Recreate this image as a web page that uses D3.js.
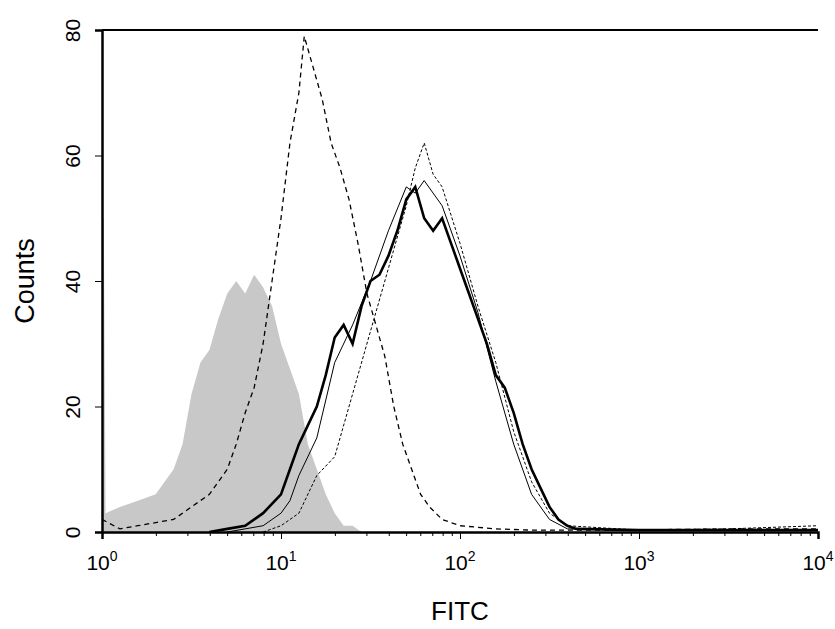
<!DOCTYPE html>
<html><head><meta charset="utf-8">
<script src="https://cdn.jsdelivr.net/npm/d3@7"></script>
<style>body{margin:0;background:#fff}svg{font-family:"Liberation Sans",Arial,sans-serif}</style>
</head><body><div id="viz"></div>
<script>
// log10(FITC) positions and counts per curve
var isoX = [0,0.01,0.02,0.1,0.2,0.3,0.4,0.45,0.5,0.55,0.6,0.65,0.7,0.75,0.8,0.85,0.9,0.95,1.0,1.05,1.1,1.15,1.2,1.25,1.3,1.35,1.4,1.45,1.5];
var isoY = [50,50,3,4,5,6,10,14,22,27,29,34,38,40,38,41,39,36,30,26,22,14,10,6,3,1,1,0,0];
var dashX = [0,0.1,0.2,0.3,0.4,0.5,0.6,0.7,0.75,0.8,0.85,0.9,0.95,1.0,1.05,1.1,1.13,1.18,1.23,1.28,1.33,1.38,1.43,1.48,1.53,1.58,1.63,1.68,1.73,1.78,1.83,1.9,2.0,2.2,2.4,2.8,3.2,3.6,4.0];
var dashY = [2,0.5,1,1.5,2,4,6,10,14,19,23,30,40,50,62,70,79,74,69,62,58,53,46,38,33,28,20,14,10,6,4,2,1,0.5,0.3,0.3,0.4,0.5,0.5];
var thickX = [0.6,0.7,0.8,0.9,1.0,1.05,1.1,1.15,1.2,1.25,1.3,1.35,1.4,1.45,1.5,1.55,1.6,1.65,1.7,1.75,1.8,1.85,1.9,1.95,2.0,2.05,2.1,2.15,2.2,2.25,2.3,2.35,2.4,2.45,2.5,2.55,2.6,2.65,3.0,3.5,4.0];
var thickY = [0,0.5,1,3,6,10,14,17,20,25,31,33,30,36,40,41,44,48,53,55,50,48,50,46,42,38,34,30,25,23,19,14,10,7,4,2,1,0.5,0.3,0.3,0.3];
var thinX = [0.7,0.9,1.0,1.05,1.1,1.2,1.3,1.4,1.5,1.6,1.7,1.75,1.8,1.9,2.0,2.1,2.2,2.3,2.4,2.5,2.6,3.0,4.0];
var thinY = [0,1,3,5,9,15,27,33,40,48,55,54,56,52,44,35,24,14,6,2,0.5,0.3,0.3];
var dotX = [0.9,1.0,1.1,1.2,1.3,1.4,1.5,1.6,1.7,1.75,1.8,1.85,1.9,2.0,2.1,2.2,2.3,2.4,2.5,2.6,3.0,3.5,4.0];
var dotY = [0,1,3,9,12,22,32,42,52,58,62,57,55,46,36,27,16,8,3,1,0.3,0.5,1];
var yTicks = [0,20,40,60,80];
var xDecades = [0,1,2,3,4];

var margin = {top: 30, left: 102, right: 17, bottom: 97};
var width = 835 - margin.left - margin.right;
var height = 629 - margin.top - margin.bottom;

var svg = d3.select("#viz").append("svg").attr("width", 835).attr("height", 629)
  .append("g").attr("transform", "translate(" + margin.left + "," + margin.top + ")");

var x = d3.scaleLinear().domain([0, 4]).range([0, width]);
var y = d3.scaleLinear().domain([0, 80]).range([height, 0]);

function pts(xs, ys){ return xs.map(function(v, i){ return [v, ys[i]]; }); }

svg.append("path").datum(pts(isoX, isoY))
  .attr("fill", "#c8c8c8")
  .attr("d", d3.area().x(function(d){ return x(d[0]); }).y0(height).y1(function(d){ return y(d[1]); }));

var line = d3.line().x(function(d){ return x(d[0]); }).y(function(d){ return y(d[1]); });
var curves = [
  {x: dashX, y: dashY, w: 1.3, dash: "5,4"},
  {x: dotX, y: dotY, w: 1, dash: "3,2"},
  {x: thinX, y: thinY, w: 1, dash: null},
  {x: thickX, y: thickY, w: 2.6, dash: null}
];
curves.forEach(function(c){
  svg.append("path").datum(pts(c.x, c.y)).attr("fill", "none").attr("stroke", "#000")
    .attr("stroke-width", c.w).attr("stroke-dasharray", c.dash).attr("d", line);
});

// frame top
svg.append("line").attr("x1", 0).attr("x2", width).attr("y1", 0).attr("y2", 0).attr("stroke", "#000").attr("stroke-width", 2);

var yAxis = svg.append("g").call(d3.axisLeft(y).tickValues(yTicks).tickSize(7).tickFormat(d3.format("d")));
yAxis.select(".domain").attr("stroke-width", 2.5);
yAxis.selectAll("text").attr("font-size", 21).attr("transform", "rotate(-90)")
  .attr("x", 0).attr("y", -22).attr("dy", "0").attr("text-anchor", "middle");

var minor = [];
xDecades.slice(0, 4).forEach(function(d){ for (var k = 2; k < 10; k++) minor.push(d + Math.log10(k)); });
var xAxis = svg.append("g").attr("transform", "translate(0," + height + ")")
  .call(d3.axisBottom(x).tickValues(xDecades).tickSize(7).tickFormat(""));
xAxis.select(".domain").attr("stroke-width", 2.5);
svg.append("g").attr("transform", "translate(0," + height + ")")
  .call(d3.axisBottom(x).tickValues(minor).tickSize(4).tickFormat("")).select(".domain").remove();

xDecades.forEach(function(d){
  var t = svg.append("text").attr("x", x(d)).attr("y", height + 38).attr("text-anchor", "middle").attr("font-size", 21);
  t.append("tspan").text("10");
  t.append("tspan").attr("dy", -9).attr("font-size", 14).text(d);
});

svg.append("text").attr("x", width / 2).attr("y", height + 88).attr("text-anchor", "middle").attr("font-size", 26).text("FITC");
svg.append("text").attr("transform", "translate(-68," + height / 2 + ")rotate(-90)").attr("text-anchor", "middle").attr("font-size", 27).text("Counts");
</script></body></html>
